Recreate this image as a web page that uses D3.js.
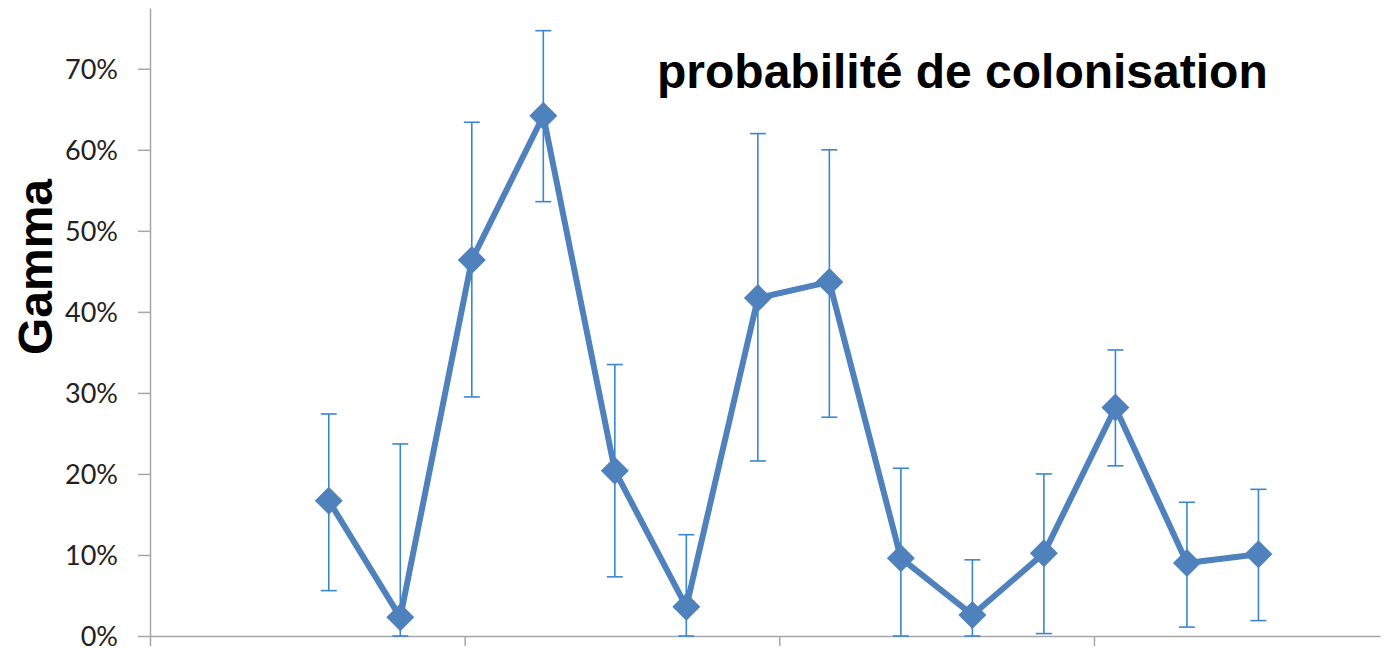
<!DOCTYPE html>
<html>
<head>
<meta charset="utf-8">
<script src="https://cdn.jsdelivr.net/npm/d3@7"></script>
<style>
  html, body { margin: 0; padding: 0; background: #fff; }
  svg { display: block; }
</style>
</head>
<body>
<svg id="chart" width="1392" height="649"></svg>
<script>
// Sampling periods (numeric position along the time axis)
const periods = [0, 1, 2, 3, 4, 5, 6, 7, 8, 9, 10, 11, 12, 13];
// Colonisation probability (gamma) estimates
const gamma = [0.167, 0.023, 0.464, 0.642, 0.204, 0.036, 0.417, 0.437, 0.096, 0.026, 0.102, 0.282, 0.090, 0.101];
// Confidence limits
const upper = [0.274, 0.237, 0.634, 0.747, 0.335, 0.125, 0.620, 0.600, 0.207, 0.094, 0.200, 0.353, 0.165, 0.181];
const lower = [0.056, 0.000, 0.295, 0.536, 0.073, 0.000, 0.216, 0.270, 0.000, 0.000, 0.003, 0.210, 0.011, 0.019];
// Axis ticks
const yTicks = [0, 0.1, 0.2, 0.3, 0.4, 0.5, 0.6, 0.7];
const xTicks = [-2.5, 1.9, 6.3, 10.7];
const xDomain = [-2.5, 14.7];
const yDomain = [0, 0.775];

const svg = d3.select("#chart");
const plotLeft = 150, plotRight = 1380, plotTop = 8, plotBottom = 636;

const x = d3.scaleLinear().domain(xDomain).range([plotLeft, plotRight]);
const y = d3.scaleLinear().domain(yDomain).range([plotBottom, plotTop]);

const axisColor = "#a6a6a6";
const lineColor = "#4f81bd";
const errColor = "#3a87d0";

// Y axis
const yAxis = svg.append("g")
  .attr("transform", `translate(${plotLeft},0)`)
  .call(d3.axisLeft(y).tickValues(yTicks).tickFormat(d3.format(".0%")).tickSize(12).tickSizeOuter(0).tickPadding(20));
yAxis.select(".domain").attr("stroke", axisColor).attr("stroke-width", 1.5);
yAxis.selectAll(".tick line").attr("stroke", axisColor).attr("stroke-width", 1.5);
yAxis.selectAll(".tick text")
  .attr("fill", "#222")
  .style("font-family", "Lato, 'Open Sans', sans-serif")
  .style("font-size", "27px")
  .attr("dy", "0.36em");

// X axis
const xAxis = svg.append("g")
  .attr("transform", `translate(0,${plotBottom})`)
  .call(d3.axisBottom(x).tickValues(xTicks).tickFormat("").tickSize(10).tickSizeOuter(0));
xAxis.select(".domain").attr("stroke", axisColor).attr("stroke-width", 1.5);
xAxis.selectAll(".tick line").attr("stroke", axisColor).attr("stroke-width", 1.5);

const data = periods.map((p, i) => ({ p, v: gamma[i], hi: upper[i], lo: lower[i] }));

// Series line
svg.append("path")
  .datum(data)
  .attr("fill", "none")
  .attr("stroke", lineColor)
  .attr("stroke-width", 6)
  .attr("stroke-linejoin", "round")
  .attr("d", d3.line().x(d => x(d.p)).y(d => y(d.v)));

// Error bars
const err = svg.append("g").attr("stroke", errColor).attr("stroke-width", 1.6);
err.selectAll("line.v").data(data).join("line").attr("class", "v")
  .attr("x1", d => x(d.p)).attr("x2", d => x(d.p))
  .attr("y1", d => y(d.hi)).attr("y2", d => y(d.lo));
err.selectAll("line.hi").data(data).join("line").attr("class", "hi")
  .attr("x1", d => x(d.p) - 8).attr("x2", d => x(d.p) + 8)
  .attr("y1", d => y(d.hi)).attr("y2", d => y(d.hi));
err.selectAll("line.lo").data(data).join("line").attr("class", "lo")
  .attr("x1", d => x(d.p) - 8).attr("x2", d => x(d.p) + 8)
  .attr("y1", d => y(d.lo)).attr("y2", d => y(d.lo));

// Diamond markers
svg.append("g").selectAll("path").data(data).join("path")
  .attr("transform", d => `translate(${x(d.p)},${y(d.v)})`)
  .attr("d", "M0,-14L14,0L0,14L-14,0Z")
  .attr("fill", lineColor);

// Title
svg.append("text")
  .attr("x", 657).attr("y", 88)
  .style("font-family", "'Liberation Sans', Arial, sans-serif")
  .style("font-weight", "bold")
  .style("font-size", "48px")
  .attr("fill", "#000")
  .text("probabilité de colonisation");

// Y axis title
svg.append("text")
  .attr("transform", "translate(52,267) rotate(-90)")
  .attr("text-anchor", "middle")
  .style("font-family", "'Liberation Sans', Arial, sans-serif")
  .style("font-weight", "bold")
  .style("font-size", "48px")
  .attr("fill", "#000")
  .text("Gamma");
</script>
</body>
</html>
